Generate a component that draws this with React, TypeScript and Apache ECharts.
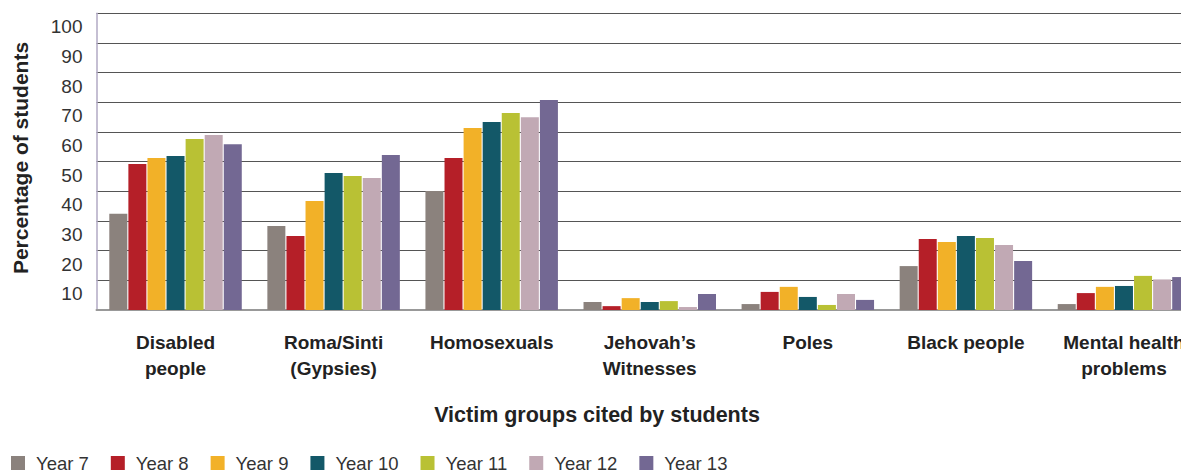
import React, { useEffect, useRef } from "react";
import * as echarts from "echarts";

const categories = [
  "Disabled\npeople",
  "Roma/Sinti\n(Gypsies)",
  "Homosexuals",
  "Jehovah’s\nWitnesses",
  "Poles",
  "Black people",
  "Mental health\nproblems",
];

const seriesNames = ["Year 7", "Year 8", "Year 9", "Year 10", "Year 11", "Year 12", "Year 13"];
const colors = ["#8b827d", "#b51f28", "#f2b128", "#135868", "#b9c134", "#c1a9b4", "#736893"];

const year7 = [32.4, 28.3, 40.1, 2.7, 2.0, 14.8, 2.0];
const year8 = [49.2, 24.9, 51.2, 1.3, 6.1, 23.9, 5.7];
const year9 = [51.2, 36.7, 61.3, 4.0, 7.8, 22.9, 7.8];
const year10 = [51.9, 46.2, 63.4, 2.7, 4.4, 24.9, 8.1];
const year11 = [57.6, 45.2, 66.4, 3.0, 1.7, 24.3, 11.5];
const year12 = [59.0, 44.5, 65.0, 1.0, 5.4, 21.9, 10.3];
const year13 = [55.9, 52.2, 70.8, 5.4, 3.4, 16.5, 11.1];

const seriesValues = [year7, year8, year9, year10, year11, year12, year13];

const FONT = "'Liberation Sans', Arial, Helvetica, sans-serif";

export default function App() {
  const ref = useRef<HTMLDivElement>(null);

  useEffect(() => {
    if (!ref.current) return;
    const chart = echarts.init(ref.current, undefined, { renderer: "svg" });
    chart.setOption({
      animation: false,
      backgroundColor: "#ffffff",
      textStyle: { fontFamily: FONT },
      color: colors,
      grid: { left: 96.5, top: 13.3, bottom: 162, right: 0, containLabel: false },
      legend: {
        left: 11,
        top: 453,
        padding: 0,
        itemWidth: 14,
        itemHeight: 14,
        itemGap: 22,
        icon: "rect",
        textStyle: {
          fontSize: 18.5,
          lineHeight: 20,
          color: "#333",
          fontFamily: FONT,
          padding: [0, 0, 0, 6],
        },
        data: seriesNames,
      },
      xAxis: {
        type: "category",
        data: categories,
        axisTick: { show: false },
        axisLine: { lineStyle: { color: "#999", width: 2 } },
        axisLabel: {
          fontSize: 19,
          fontWeight: "bold",
          color: "#222",
          margin: 19,
          lineHeight: 26,
          interval: 0,
          verticalAlign: "top",
        },
      },
      yAxis: {
        type: "value",
        min: 0,
        max: 100,
        interval: 10,
        axisLine: { show: true, lineStyle: { color: "#b2aac4", width: 1.5 } },
        axisTick: { show: false },
        splitLine: { lineStyle: { color: "#555", width: 1 } },
        axisLabel: {
          showMinLabel: false,
          fontSize: 19,
          color: "#333",
          margin: 14,
          verticalAlign: "top",
          lineHeight: 27,
        },
      },
      graphic: [
        {
          type: "text",
          x: 20.5,
          y: 158,
          rotation: Math.PI / 2,
          style: {
            text: "Percentage of students",
            fontSize: 21,
            fontWeight: "bold",
            fill: "#222",
            fontFamily: FONT,
            align: "center",
            verticalAlign: "middle",
          },
        },
        {
          type: "text",
          x: 597,
          y: 415,
          style: {
            text: "Victim groups cited by students",
            fontSize: 21.5,
            fontWeight: "bold",
            fill: "#222",
            fontFamily: FONT,
            align: "center",
            verticalAlign: "middle",
          },
        },
      ],
      series: seriesNames.map((name, i) => ({
        name,
        type: "bar",
        data: seriesValues[i],
        barWidth: 18,
        barGap: "6%",
        itemStyle: { color: colors[i] },
      })),
    });
    return () => chart.dispose();
  }, []);

  return (
    <div style={{ position: "fixed", left: 0, top: 0, width: 1181, height: 472, overflow: "hidden" }}>
      <div ref={ref} style={{ position: "absolute", left: 0, top: 0, width: 1203, height: 472 }} />
    </div>
  );
}
